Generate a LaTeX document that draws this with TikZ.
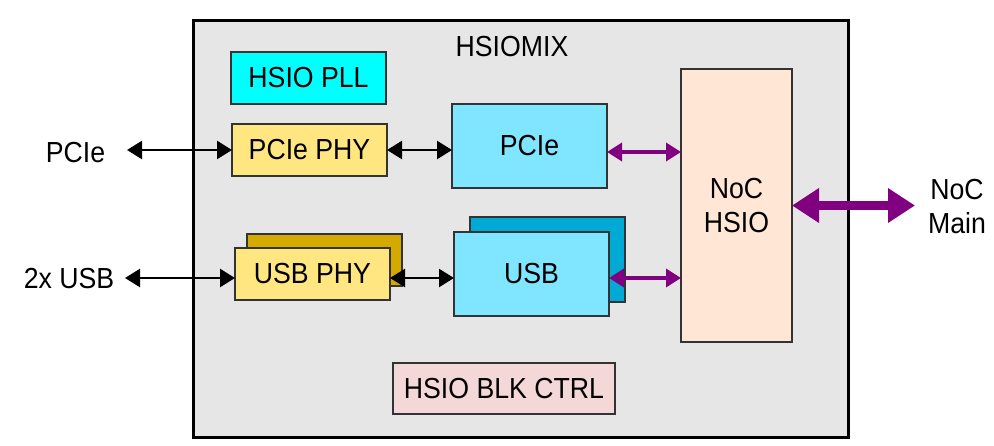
\documentclass[tikz,border=0pt]{standalone}
\usepackage{fontspec}
\setmainfont{Liberation Sans}[FakeStretch=0.92]
\usetikzlibrary{arrows.meta}
\definecolor{bggray}{HTML}{E6E6E6}
\definecolor{pllcyan}{HTML}{00FFFF}
\definecolor{phyyellow}{HTML}{FFE680}
\definecolor{phyback}{HTML}{D4AA00}
\definecolor{ctrlblue}{HTML}{80E5FF}
\definecolor{ctrlback}{HTML}{00AAD4}
\definecolor{blkpink}{HTML}{F4D7D7}
\definecolor{nocpeach}{HTML}{FFE6D5}
\definecolor{boxedge}{HTML}{333333}
\definecolor{nocpurple}{HTML}{800080}
\begin{document}
\begin{tikzpicture}[x=1pt,y=-1pt,
  every node/.style={font=\fontsize{29}{34}\selectfont},
  blockbox/.style={draw=boxedge,line width=1.5pt,inner sep=0pt,outer sep=0pt,align=center},
  plainlabel/.style={inner sep=0pt,align=center},
  blkarrow/.style={line width=2.5pt,{Triangle[length=15pt,width=18pt]}-{Triangle[length=15pt,width=18pt]}},
  purarrow/.style={nocpurple,line width=3.5pt,{Triangle[length=15pt,width=18pt]}-{Triangle[length=15pt,width=18pt]}},
  bigarrow/.style={nocpurple,line width=9pt,{Triangle[length=27pt,width=33pt]}-{Triangle[length=27pt,width=33pt]}}
]
\useasboundingbox (0,0) rectangle (994,446);
% outer HSIOMIX block
\node[draw=black,fill=bggray,line width=3pt,inner sep=0pt,minimum width=655pt,minimum height=416pt] (mix) at (520.5,229) {};
\node[plainlabel] (mixlabel) at (512,47) {HSIOMIX};
% blocks
\node[blockbox,fill=pllcyan,minimum width=155pt,minimum height=52pt] (pll) at (308.5,78) {HSIO PLL};
\node[blockbox,fill=phyyellow,minimum width=155pt,minimum height=52pt] (pciephy) at (309.5,150) {PCIe PHY};
\node[blockbox,fill=ctrlblue,minimum width=155pt,minimum height=84pt] (pcie) at (529.5,146) {PCIe};
\node[blockbox,fill=phyback,minimum width=155pt,minimum height=52pt] (usbphyback) at (324.5,260) {};
\node[blockbox,fill=phyyellow,minimum width=155pt,minimum height=52pt] (usbphy) at (312.5,274) {USB PHY};
\node[blockbox,fill=ctrlback,minimum width=155pt,minimum height=85pt] (usbback) at (547.5,259.5) {};
\node[blockbox,fill=ctrlblue,minimum width=155pt,minimum height=84pt] (usb) at (531.5,274) {USB};
\node[blockbox,fill=blkpink,minimum width=222pt,minimum height=51pt] (blkctrl) at (504,388.5) {HSIO BLK CTRL};
\node[blockbox,fill=nocpeach,minimum width=111pt,minimum height=273pt] (noc) at (736.5,205.5) {NoC\\HSIO};
% external labels
\node[plainlabel] (pcielabel) at (75.5,153) {PCIe};
\node[plainlabel] (usblabel) at (69,279) {2x USB};
\node[plainlabel] (nocmain) at (957,207) {NoC\\Main};
% connector ends
\coordinate (pcieext) at (127,150);
\coordinate (usbext) at (125,278);
\coordinate (pcielink) at (0,152);
\coordinate (nocend) at (915,205.5);
% connectors
\draw[blkarrow] (pcieext) -- (pciephy.west);
\draw[blkarrow] (pciephy.east) -- (pcie.west |- pciephy.east);
\draw[blkarrow] (usbext) -- (usbext -| usbphy.west);
\draw[blkarrow] (usbext -| usbphy.east) -- (usbext -| usb.west);
\draw[purarrow] (pcielink -| pcie.east) -- (pcielink -| noc.west);
\draw[purarrow] (usbext -| usb.east) -- (usbext -| noc.west);
\draw[bigarrow] (noc.east) -- (nocend);
\end{tikzpicture}
\end{document}
